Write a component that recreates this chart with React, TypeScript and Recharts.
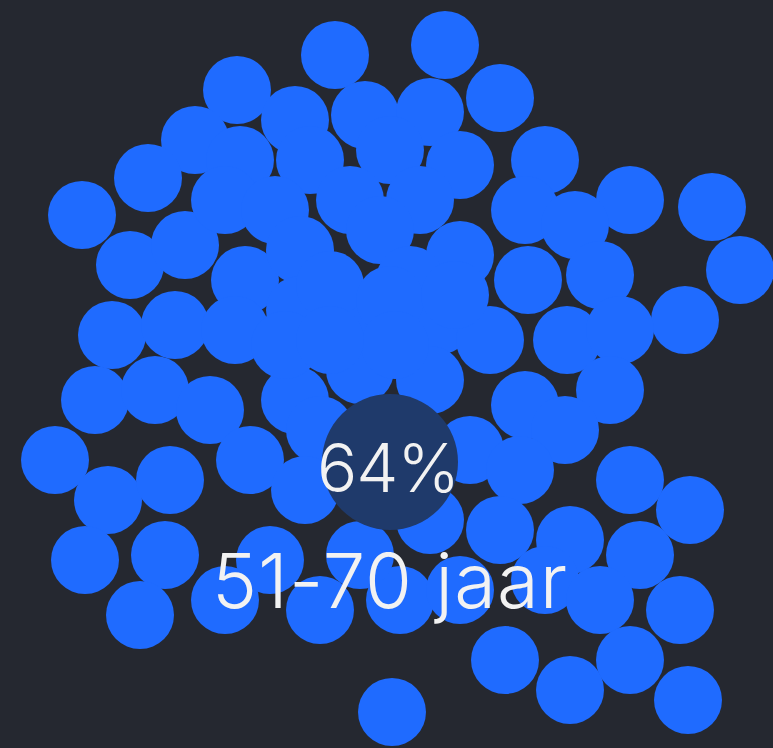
import React from "react";
import { ScatterChart, Scatter, XAxis, YAxis } from "recharts";

const bubbleX = [335, 445, 237, 500, 195, 295, 365, 430, 545, 148, 82, 240, 310, 390, 460, 630, 712, 740, 525, 575, 600, 528, 130, 185, 225, 275, 350, 420, 380, 460, 245, 300, 410, 685, 112, 175, 235, 300, 350, 440, 490, 567, 620, 95, 155, 210, 295, 360, 430, 525, 610, 565, 55, 108, 170, 250, 320, 470, 520, 630, 690, 85, 165, 225, 140, 305, 390, 430, 500, 570, 640, 680, 320, 400, 460, 545, 600, 505, 570, 630, 688, 392, 270, 360, 330, 390, 395, 285, 330, 455];
const bubbleY = [55, 45, 90, 98, 140, 120, 115, 112, 160, 178, 215, 160, 160, 150, 165, 200, 207, 270, 210, 225, 275, 280, 265, 245, 200, 210, 200, 200, 230, 255, 280, 250, 280, 320, 335, 325, 330, 310, 320, 320, 340, 340, 330, 400, 390, 410, 400, 370, 380, 405, 390, 430, 460, 500, 480, 460, 430, 450, 470, 480, 510, 560, 555, 600, 615, 490, 480, 520, 530, 540, 555, 610, 610, 600, 590, 580, 600, 660, 690, 660, 700, 712, 560, 555, 285, 300, 345, 345, 340, 295];

const bubbles = bubbleX.map((x, i) => ({ x, y: bubbleY[i] }));

const centerValue = "64%";
const centerLabel = "51-70 jaar";
const centerPoint = [{ x: 390, y: 462 }];

const BLUE = "#1f6bff";
const BG = "#252830";

const Bubble = (props: any) => (
  <circle cx={props.cx} cy={props.cy} r={34} fill={BLUE} />
);

const Center = (props: any) => (
  <g>
    <circle cx={props.cx} cy={props.cy} r={68} fill="#1f3a6b" />
    <text
      x={props.cx - 2}
      y={props.cy + 30}
      textAnchor="middle"
      fill="#f2f2f2"
      fontFamily="Inter, 'Noto Sans', sans-serif"
      fontWeight={300}
      fontSize={67}
      letterSpacing={-1}
    >
      {centerValue}
    </text>
    <text
      x={props.cx}
      y={props.cy + 146}
      textAnchor="middle"
      fill="#f2f2f2"
      fontFamily="Inter, 'Noto Sans', sans-serif"
      fontWeight={300}
      fontSize={76}
      letterSpacing={1}
    >
      {centerLabel}
    </text>
  </g>
);

export default function App() {
  return (
    <div style={{ position: "absolute", left: 0, top: 0, width: 773, height: 748, background: BG, overflow: "hidden" }}>
      <ScatterChart width={773} height={748} margin={{ top: 0, right: 0, bottom: 0, left: 0 }}>
        <XAxis type="number" dataKey="x" domain={[0, 773]} hide />
        <YAxis type="number" dataKey="y" domain={[0, 748]} reversed hide />
        <Scatter data={bubbles} shape={Bubble} isAnimationActive={false} />
        <Scatter data={centerPoint} shape={Center} isAnimationActive={false} />
      </ScatterChart>
    </div>
  );
}
